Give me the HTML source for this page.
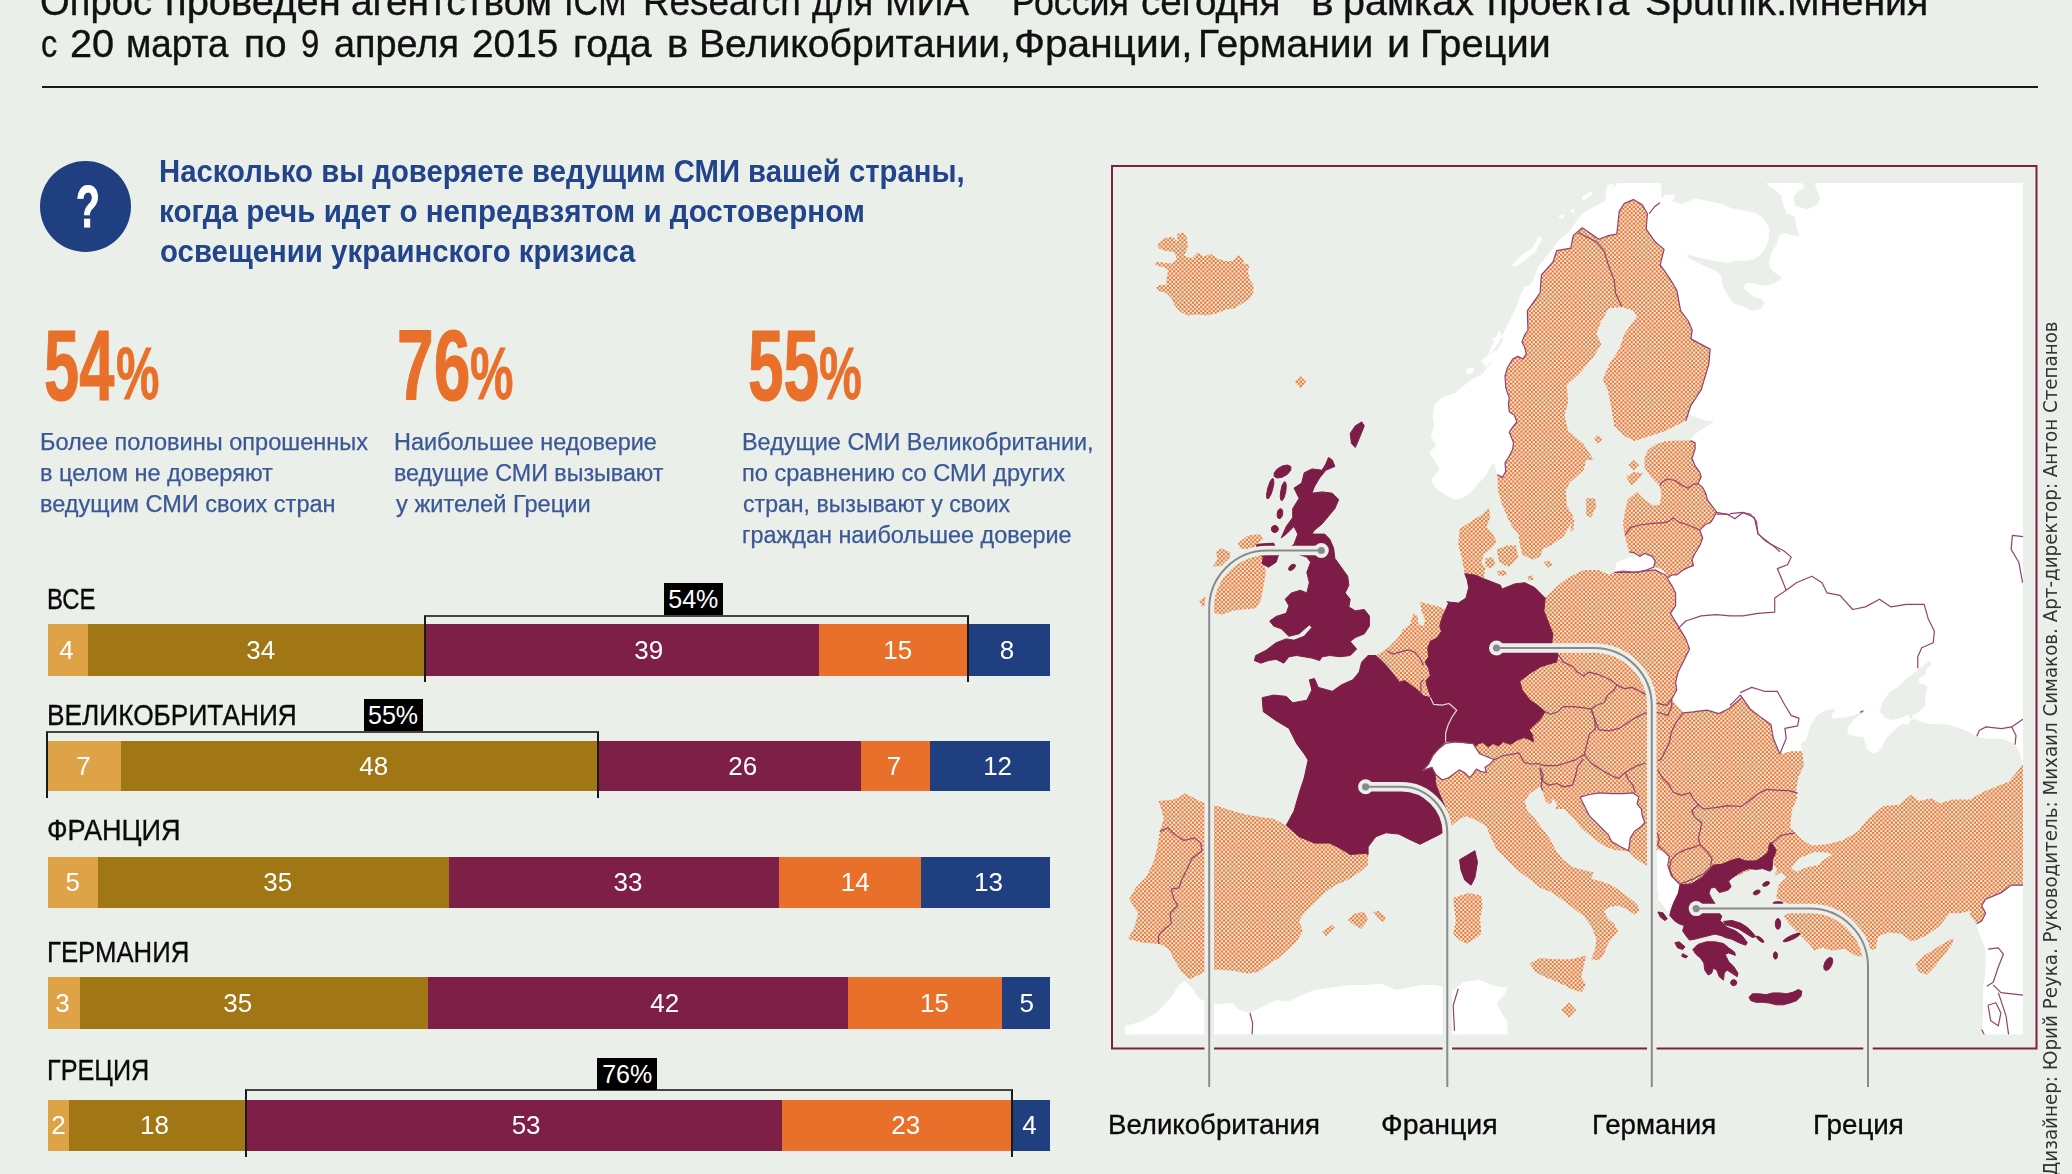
<!DOCTYPE html><html lang="ru"><head><meta charset="utf-8"><title>Доверие СМИ</title><style>
html,body{margin:0;padding:0}html{width:2072px;height:1174px;overflow:hidden}body{width:2072px;height:1174px;overflow:hidden;position:relative;contain:paint;background:#EBEFEA;font-family:"Liberation Sans", sans-serif}
.t{position:absolute;white-space:pre;line-height:1;transform-origin:0 0;filter:blur(0.45px)}
.b{position:absolute}
.n{position:absolute;color:#fff;font-size:26px;line-height:1;text-align:center;white-space:pre;filter:blur(0.4px)}
.bd{position:absolute;background:#000;color:#fff;font-size:25px;line-height:1;text-align:center}
svg{position:absolute;left:0;top:0}
#pg{position:absolute;left:0;top:0;width:2072px;height:1174px;overflow:hidden}
</style></head><body><div id="pg">
<div class="b" style="left:42px;top:86px;width:1995.5px;height:2px;background:#1a1a1a"></div>
<div class="b" style="left:40px;top:161px;width:91px;height:91px;border-radius:50%;background:#1F3F80"></div>
<div class="t" style="left:40.2px;top:-17.0px;font-size:38.5px;font-weight:400;color:#111;font-family:'Liberation Sans', sans-serif;transform:scaleX(0.9922);-webkit-text-stroke:0.35px currentColor;">Опрос</div>
<div class="t" style="left:165.0px;top:-17.0px;font-size:38.5px;font-weight:400;color:#111;font-family:'Liberation Sans', sans-serif;transform:scaleX(1.0373);-webkit-text-stroke:0.35px currentColor;">проведен</div>
<div class="t" style="left:351.4px;top:-17.0px;font-size:38.5px;font-weight:400;color:#111;font-family:'Liberation Sans', sans-serif;transform:scaleX(1.0089);-webkit-text-stroke:0.35px currentColor;">агентством</div>
<div class="t" style="left:564.3px;top:-17.0px;font-size:38.5px;font-weight:400;color:#111;font-family:'Liberation Sans', sans-serif;transform:scaleX(0.8866);-webkit-text-stroke:0.35px currentColor;">ICM</div>
<div class="t" style="left:643.3px;top:-17.0px;font-size:38.5px;font-weight:400;color:#111;font-family:'Liberation Sans', sans-serif;transform:scaleX(0.9574);-webkit-text-stroke:0.35px currentColor;">Research</div>
<div class="t" style="left:812.4px;top:-17.0px;font-size:38.5px;font-weight:400;color:#111;font-family:'Liberation Sans', sans-serif;transform:scaleX(0.9296);-webkit-text-stroke:0.35px currentColor;">для</div>
<div class="t" style="left:885.4px;top:-17.0px;font-size:38.5px;font-weight:400;color:#111;font-family:'Liberation Sans', sans-serif;transform:scaleX(0.9818);-webkit-text-stroke:0.35px currentColor;">МИА</div>
<div class="t" style="left:998.9px;top:-17.0px;font-size:38.5px;font-weight:400;color:#111;font-family:'Liberation Sans', sans-serif;transform:scaleX(0.9274);-webkit-text-stroke:0.35px currentColor;">&quot;Россия</div>
<div class="t" style="left:1140.6px;top:-17.0px;font-size:38.5px;font-weight:400;color:#111;font-family:'Liberation Sans', sans-serif;transform:scaleX(1.0025);-webkit-text-stroke:0.35px currentColor;">сегодня&quot;</div>
<div class="t" style="left:1311.1px;top:-17.0px;font-size:38.5px;font-weight:400;color:#111;font-family:'Liberation Sans', sans-serif;transform:scaleX(1.1043);-webkit-text-stroke:0.35px currentColor;">в</div>
<div class="t" style="left:1343.4px;top:-17.0px;font-size:38.5px;font-weight:400;color:#111;font-family:'Liberation Sans', sans-serif;transform:scaleX(1.0252);-webkit-text-stroke:0.35px currentColor;">рамках</div>
<div class="t" style="left:1487.1px;top:-17.0px;font-size:38.5px;font-weight:400;color:#111;font-family:'Liberation Sans', sans-serif;transform:scaleX(1.0100);-webkit-text-stroke:0.35px currentColor;">проекта</div>
<div class="t" style="left:1645.4px;top:-17.0px;font-size:38.5px;font-weight:400;color:#111;font-family:'Liberation Sans', sans-serif;transform:scaleX(1.0213);-webkit-text-stroke:0.35px currentColor;">Sputnik.Мнения</div>
<div class="t" style="left:40.6px;top:25.3px;font-size:38.5px;font-weight:400;color:#111;font-family:'Liberation Sans', sans-serif;transform:scaleX(0.8426);-webkit-text-stroke:0.35px currentColor;">с</div>
<div class="t" style="left:69.8px;top:25.3px;font-size:38.5px;font-weight:400;color:#111;font-family:'Liberation Sans', sans-serif;transform:scaleX(1.0309);-webkit-text-stroke:0.35px currentColor;">20</div>
<div class="t" style="left:126.2px;top:25.3px;font-size:38.5px;font-weight:400;color:#111;font-family:'Liberation Sans', sans-serif;transform:scaleX(0.9562);-webkit-text-stroke:0.35px currentColor;">марта</div>
<div class="t" style="left:243.8px;top:25.3px;font-size:38.5px;font-weight:400;color:#111;font-family:'Liberation Sans', sans-serif;transform:scaleX(1.0080);-webkit-text-stroke:0.35px currentColor;">по</div>
<div class="t" style="left:300.7px;top:25.3px;font-size:38.5px;font-weight:400;color:#111;font-family:'Liberation Sans', sans-serif;transform:scaleX(0.8533);-webkit-text-stroke:0.35px currentColor;">9</div>
<div class="t" style="left:333.8px;top:25.3px;font-size:38.5px;font-weight:400;color:#111;font-family:'Liberation Sans', sans-serif;transform:scaleX(0.9829);-webkit-text-stroke:0.35px currentColor;">апреля</div>
<div class="t" style="left:472.2px;top:25.3px;font-size:38.5px;font-weight:400;color:#111;font-family:'Liberation Sans', sans-serif;transform:scaleX(1.0087);-webkit-text-stroke:0.35px currentColor;">2015</div>
<div class="t" style="left:572.8px;top:25.3px;font-size:38.5px;font-weight:400;color:#111;font-family:'Liberation Sans', sans-serif;transform:scaleX(1.0122);-webkit-text-stroke:0.35px currentColor;">года</div>
<div class="t" style="left:666.5px;top:25.3px;font-size:38.5px;font-weight:400;color:#111;font-family:'Liberation Sans', sans-serif;transform:scaleX(1.0330);-webkit-text-stroke:0.35px currentColor;">в</div>
<div class="t" style="left:698.7px;top:25.3px;font-size:38.5px;font-weight:400;color:#111;font-family:'Liberation Sans', sans-serif;transform:scaleX(1.0161);-webkit-text-stroke:0.35px currentColor;">Великобритании,</div>
<div class="t" style="left:1014.4px;top:25.3px;font-size:38.5px;font-weight:400;color:#111;font-family:'Liberation Sans', sans-serif;transform:scaleX(1.0564);-webkit-text-stroke:0.35px currentColor;">Франции,</div>
<div class="t" style="left:1197.8px;top:25.3px;font-size:38.5px;font-weight:400;color:#111;font-family:'Liberation Sans', sans-serif;transform:scaleX(1.0114);-webkit-text-stroke:0.35px currentColor;">Германии</div>
<div class="t" style="left:1386.7px;top:25.3px;font-size:38.5px;font-weight:400;color:#111;font-family:'Liberation Sans', sans-serif;transform:scaleX(1.0746);-webkit-text-stroke:0.35px currentColor;">и</div>
<div class="t" style="left:1419.8px;top:25.3px;font-size:38.5px;font-weight:400;color:#111;font-family:'Liberation Sans', sans-serif;transform:scaleX(1.0337);-webkit-text-stroke:0.35px currentColor;">Греции</div>
<div class="t" style="left:158.7px;top:155.7px;font-size:30.5px;font-weight:700;color:#22448A;font-family:'Liberation Sans', sans-serif;transform:scaleX(0.9606);">Насколько вы доверяете ведущим СМИ вашей страны,</div>
<div class="t" style="left:158.6px;top:196.2px;font-size:30.5px;font-weight:700;color:#22448A;font-family:'Liberation Sans', sans-serif;transform:scaleX(0.9707);">когда речь идет о непредвзятом и достоверном</div>
<div class="t" style="left:159.6px;top:236.2px;font-size:30.5px;font-weight:700;color:#22448A;font-family:'Liberation Sans', sans-serif;transform:scaleX(0.9634);">освещении украинского кризиса</div>
<div class="t" style="left:39.7px;top:430.7px;font-size:23.5px;font-weight:400;color:#3A5896;font-family:'Liberation Sans', sans-serif;transform:scaleX(1.0028);-webkit-text-stroke:0.25px currentColor;">Более половины опрошенных</div>
<div class="t" style="left:40.0px;top:461.8px;font-size:23.5px;font-weight:400;color:#3A5896;font-family:'Liberation Sans', sans-serif;transform:scaleX(1.0025);-webkit-text-stroke:0.25px currentColor;">в целом не доверяют</div>
<div class="t" style="left:40.0px;top:492.8px;font-size:23.5px;font-weight:400;color:#3A5896;font-family:'Liberation Sans', sans-serif;transform:scaleX(1.0014);-webkit-text-stroke:0.25px currentColor;">ведущим СМИ своих стран</div>
<div class="t" style="left:394.1px;top:430.7px;font-size:23.5px;font-weight:400;color:#3A5896;font-family:'Liberation Sans', sans-serif;transform:scaleX(0.9975);-webkit-text-stroke:0.25px currentColor;">Наибольшее недоверие</div>
<div class="t" style="left:394.4px;top:461.8px;font-size:23.5px;font-weight:400;color:#3A5896;font-family:'Liberation Sans', sans-serif;transform:scaleX(0.9899);-webkit-text-stroke:0.25px currentColor;">ведущие СМИ вызывают</div>
<div class="t" style="left:396.0px;top:492.8px;font-size:23.5px;font-weight:400;color:#3A5896;font-family:'Liberation Sans', sans-serif;transform:scaleX(1.0053);-webkit-text-stroke:0.25px currentColor;">у жителей Греции</div>
<div class="t" style="left:742.1px;top:430.7px;font-size:23.5px;font-weight:400;color:#3A5896;font-family:'Liberation Sans', sans-serif;transform:scaleX(0.9965);-webkit-text-stroke:0.25px currentColor;">Ведущие СМИ Великобритании,</div>
<div class="t" style="left:742.4px;top:461.8px;font-size:23.5px;font-weight:400;color:#3A5896;font-family:'Liberation Sans', sans-serif;transform:scaleX(1.0032);-webkit-text-stroke:0.25px currentColor;">по сравнению со СМИ других</div>
<div class="t" style="left:743.1px;top:492.8px;font-size:23.5px;font-weight:400;color:#3A5896;font-family:'Liberation Sans', sans-serif;transform:scaleX(0.9835);-webkit-text-stroke:0.25px currentColor;">стран, вызывают у своих</div>
<div class="t" style="left:742.4px;top:523.9px;font-size:23.5px;font-weight:400;color:#3A5896;font-family:'Liberation Sans', sans-serif;transform:scaleX(0.9965);-webkit-text-stroke:0.25px currentColor;">граждан наибольшее доверие</div>
<div class="t" style="left:44.3px;top:315.5px;font-size:99.5px;font-weight:700;color:#E8702A;font-family:'Liberation Sans', sans-serif;transform:scaleX(0.6351);-webkit-text-stroke:1.2px #E8702A;">54</div>
<div class="t" style="left:115.7px;top:336.2px;font-size:75px;font-weight:700;color:#E8702A;font-family:'Liberation Sans', sans-serif;transform:scaleX(0.6516);-webkit-text-stroke:0.8px #E8702A;">%</div>
<div class="t" style="left:397.2px;top:315.5px;font-size:99.5px;font-weight:700;color:#E8702A;font-family:'Liberation Sans', sans-serif;transform:scaleX(0.6633);-webkit-text-stroke:1.2px #E8702A;">76</div>
<div class="t" style="left:469.7px;top:336.2px;font-size:75px;font-weight:700;color:#E8702A;font-family:'Liberation Sans', sans-serif;transform:scaleX(0.6516);-webkit-text-stroke:0.8px #E8702A;">%</div>
<div class="t" style="left:747.8px;top:315.5px;font-size:99.5px;font-weight:700;color:#E8702A;font-family:'Liberation Sans', sans-serif;transform:scaleX(0.6423);-webkit-text-stroke:1.2px #E8702A;">55</div>
<div class="t" style="left:818.8px;top:336.2px;font-size:75px;font-weight:700;color:#E8702A;font-family:'Liberation Sans', sans-serif;transform:scaleX(0.6423);-webkit-text-stroke:0.8px #E8702A;">%</div>
<div class="t" style="left:47.4px;top:583.9px;font-size:30px;font-weight:400;color:#0a0a0a;font-family:'Liberation Sans', sans-serif;transform:scaleX(0.7971);-webkit-text-stroke:0.35px currentColor;">ВСЕ</div>
<div class="t" style="left:46.8px;top:700.4px;font-size:30px;font-weight:400;color:#0a0a0a;font-family:'Liberation Sans', sans-serif;transform:scaleX(0.8758);-webkit-text-stroke:0.35px currentColor;">ВЕЛИКОБРИТАНИЯ</div>
<div class="t" style="left:46.5px;top:815.1px;font-size:30px;font-weight:400;color:#0a0a0a;font-family:'Liberation Sans', sans-serif;transform:scaleX(0.9038);-webkit-text-stroke:0.35px currentColor;">ФРАНЦИЯ</div>
<div class="t" style="left:46.9px;top:936.8px;font-size:30px;font-weight:400;color:#0a0a0a;font-family:'Liberation Sans', sans-serif;transform:scaleX(0.8576);-webkit-text-stroke:0.35px currentColor;">ГЕРМАНИЯ</div>
<div class="t" style="left:46.9px;top:1055.1px;font-size:30px;font-weight:400;color:#0a0a0a;font-family:'Liberation Sans', sans-serif;transform:scaleX(0.8401);-webkit-text-stroke:0.35px currentColor;">ГРЕЦИЯ</div>
<div class="t" style="left:1108.0px;top:1110.3px;font-size:28.5px;font-weight:400;color:#0a0a0a;font-family:'Liberation Sans', sans-serif;transform:scaleX(0.9683);-webkit-text-stroke:0.35px currentColor;">Великобритания</div>
<div class="t" style="left:1381.0px;top:1110.3px;font-size:28.5px;font-weight:400;color:#0a0a0a;font-family:'Liberation Sans', sans-serif;transform:scaleX(0.9990);-webkit-text-stroke:0.35px currentColor;">Франция</div>
<div class="t" style="left:1592.4px;top:1110.3px;font-size:28.5px;font-weight:400;color:#0a0a0a;font-family:'Liberation Sans', sans-serif;transform:scaleX(0.9717);-webkit-text-stroke:0.35px currentColor;">Германия</div>
<div class="t" style="left:1813.4px;top:1110.3px;font-size:28.5px;font-weight:400;color:#0a0a0a;font-family:'Liberation Sans', sans-serif;transform:scaleX(0.9748);-webkit-text-stroke:0.35px currentColor;">Греция</div>
<div class="t" style="left:76.1px;top:176.5px;font-size:60px;font-weight:700;color:#fff;font-family:'Liberation Sans', sans-serif;transform:scaleX(0.6494);-webkit-text-stroke:1px #fff;">?</div>
<div class="b" style="left:48.0px;top:624.0px;width:40.4px;height:51.6px;background:#DFA347"></div>
<div class="n" style="left:36.4px;top:636.6px;width:60px">4</div>
<div class="b" style="left:87.8px;top:624.0px;width:337.5px;height:51.6px;background:#A17614"></div>
<div class="n" style="left:230.7px;top:636.6px;width:60px">34</div>
<div class="b" style="left:424.7px;top:624.0px;width:395.1px;height:51.6px;background:#7D1F46"></div>
<div class="n" style="left:618.8px;top:636.6px;width:60px">39</div>
<div class="b" style="left:819.2px;top:624.0px;width:149.2px;height:51.6px;background:#E8702A"></div>
<div class="n" style="left:867.8px;top:636.6px;width:60px">15</div>
<div class="b" style="left:967.8px;top:624.0px;width:82.2px;height:51.6px;background:#1F3F80"></div>
<div class="n" style="left:977.1px;top:636.6px;width:60px">8</div>
<div class="b" style="left:48.0px;top:740.7px;width:73.6px;height:50.8px;background:#DFA347"></div>
<div class="n" style="left:53.4px;top:752.9px;width:60px">7</div>
<div class="b" style="left:121.0px;top:740.7px;width:477.9px;height:50.8px;background:#A17614"></div>
<div class="n" style="left:343.8px;top:752.9px;width:60px">48</div>
<div class="b" style="left:598.3px;top:740.7px;width:262.9px;height:50.8px;background:#7D1F46"></div>
<div class="n" style="left:712.7px;top:752.9px;width:60px">26</div>
<div class="b" style="left:860.6px;top:740.7px;width:69.6px;height:50.8px;background:#E8702A"></div>
<div class="n" style="left:864.0px;top:752.9px;width:60px">7</div>
<div class="b" style="left:929.6px;top:740.7px;width:120.4px;height:50.8px;background:#1F3F80"></div>
<div class="n" style="left:967.6px;top:752.9px;width:60px">12</div>
<div class="b" style="left:48.0px;top:856.8px;width:50.8px;height:50.9px;background:#DFA347"></div>
<div class="n" style="left:42.7px;top:869.0px;width:60px">5</div>
<div class="b" style="left:98.2px;top:856.8px;width:351.5px;height:50.9px;background:#A17614"></div>
<div class="n" style="left:247.7px;top:869.0px;width:60px">35</div>
<div class="b" style="left:449.1px;top:856.8px;width:330.9px;height:50.9px;background:#7D1F46"></div>
<div class="n" style="left:598.0px;top:869.0px;width:60px">33</div>
<div class="b" style="left:779.4px;top:856.8px;width:142.3px;height:50.9px;background:#E8702A"></div>
<div class="n" style="left:825.3px;top:869.0px;width:60px">14</div>
<div class="b" style="left:921.1px;top:856.8px;width:128.9px;height:50.9px;background:#1F3F80"></div>
<div class="n" style="left:958.5px;top:869.0px;width:60px">13</div>
<div class="b" style="left:48.0px;top:977.3px;width:32.2px;height:51.5px;background:#DFA347"></div>
<div class="n" style="left:32.6px;top:989.8px;width:60px">3</div>
<div class="b" style="left:79.6px;top:977.3px;width:349.4px;height:51.5px;background:#A17614"></div>
<div class="n" style="left:207.8px;top:989.8px;width:60px">35</div>
<div class="b" style="left:428.4px;top:977.3px;width:420.6px;height:51.5px;background:#7D1F46"></div>
<div class="n" style="left:634.7px;top:989.8px;width:60px">42</div>
<div class="b" style="left:848.4px;top:977.3px;width:154.5px;height:51.5px;background:#E8702A"></div>
<div class="n" style="left:904.4px;top:989.8px;width:60px">15</div>
<div class="b" style="left:1002.3px;top:977.3px;width:47.7px;height:51.5px;background:#1F3F80"></div>
<div class="n" style="left:996.8px;top:989.8px;width:60px">5</div>
<div class="b" style="left:48.0px;top:1100.0px;width:21.6px;height:51.0px;background:#DFA347"></div>
<div class="n" style="left:28.4px;top:1112.3px;width:60px">2</div>
<div class="b" style="left:69.0px;top:1100.0px;width:177.9px;height:51.0px;background:#A17614"></div>
<div class="n" style="left:124.5px;top:1112.3px;width:60px">18</div>
<div class="b" style="left:246.3px;top:1100.0px;width:535.8px;height:51.0px;background:#7D1F46"></div>
<div class="n" style="left:496.1px;top:1112.3px;width:60px">53</div>
<div class="b" style="left:781.5px;top:1100.0px;width:231.0px;height:51.0px;background:#E8702A"></div>
<div class="n" style="left:875.7px;top:1112.3px;width:60px">23</div>
<div class="b" style="left:1011.9px;top:1100.0px;width:38.1px;height:51.0px;background:#1F3F80"></div>
<div class="n" style="left:999.4px;top:1112.3px;width:60px">4</div>
<div class="b" style="left:423.7px;top:614.6px;width:545.1px;height:67.4px;border:2px solid #1a1a1a;border-top-color:#444;border-bottom:none;box-sizing:border-box"></div>
<div class="bd" style="left:663.6px;top:582.8px;width:59.4px;height:31.9px;line-height:32.9px">54%</div>
<div class="b" style="left:46.3px;top:731.0px;width:553.0px;height:67.0px;border:2px solid #1a1a1a;border-top-color:#444;border-bottom:none;box-sizing:border-box"></div>
<div class="bd" style="left:363.5px;top:699.0px;width:59.2px;height:31.5px;line-height:32.5px">55%</div>
<div class="b" style="left:245.3px;top:1089.0px;width:767.7px;height:68.0px;border:2px solid #1a1a1a;border-top-color:#444;border-bottom:none;box-sizing:border-box"></div>
<div class="bd" style="left:597.3px;top:1058.0px;width:59.9px;height:31.8px;line-height:32.8px">76%</div>
<div class="t" style="left:2042.2px;top:1176.0px;font-size:18.7px;color:#333;font-family:'DejaVu Sans', sans-serif;transform-origin:0 0;transform:rotate(-90deg) scaleX(0.9781)">Дизайнер: Юрий Реука. Руководитель: Михаил Симаков. Арт-директор: Антон Степанов</div>
<svg width="2072" height="1174" viewBox="0 0 2072 1174">
<defs><pattern id="hx" width="4.16" height="4.16" patternUnits="userSpaceOnUse"><rect width="4.16" height="4.16" fill="#F0EEE5"/><rect width="2.08" height="2.08" fill="#E8702A"/><rect x="2.08" y="2.08" width="2.08" height="2.08" fill="#E8702A"/></pattern>
<filter id="bl" x="0" y="0" width="100%%" height="100%%" filterUnits="objectBoundingBox"><feGaussianBlur stdDeviation="0.55"/></filter>
<clipPath id="mc"><rect x="1125" y="183" width="898" height="851.5"/></clipPath></defs>
<g clip-path="url(#mc)"><g filter="url(#bl)"><rect x="1100" y="160" width="950" height="900" fill="#EBEFEA"/>
<polygon points="1502.4,477.4 1497.3,474.8 1493.9,462.9 1490.5,466.3 1485.4,476.5 1478.6,483.3 1471.8,491.8 1463.3,497.8 1454.7,499.5 1446.2,495.2 1436.0,488.4 1430.9,479.9 1439.4,469.7 1434.3,459.5 1429.2,452.7 1436.0,445.8 1430.9,435.6 1434.3,425.4 1432.6,418.6 1434.3,405.0 1441.1,398.1 1454.7,393.0 1463.3,386.2 1471.8,379.4 1482.0,374.3 1490.5,364.1 1495.6,353.9 1499.0,347.0 1503.3,340.2 1501.6,335.1 1499.0,330.0 1486.2,358.9 1498.1,343.5 1506.7,326.5 1515.2,309.5 1522.0,292.4 1532.2,282.2 1539.0,265.2 1549.3,253.3 1559.5,239.6 1569.7,231.1 1576.5,220.9 1583.3,212.4 1593.5,207.3 1603.8,202.1 1610.6,190.2 1617.4,183.4 1619.1,180.9 1661.3,182.9 1661.3,198.6 1665.4,194.5 1675.0,195.2 1672.2,201.4 1681.8,204.1 1695.4,198.6 1706.3,200.7 1722.7,204.1 1730.9,208.2 1743.1,210.2 1756.8,213.6 1763.6,219.1 1769.0,227.3 1769.0,238.2 1765.6,247.7 1760.9,254.5 1754.0,259.3 1743.1,261.3 1736.3,260.6 1728.1,262.7 1715.9,261.3 1703.6,258.6 1695.4,256.6 1687.2,254.5 1687.2,257.2 1695.4,261.3 1706.3,266.8 1715.9,270.9 1721.3,276.3 1722.7,285.9 1728.1,295.4 1733.6,303.6 1743.1,306.3 1751.3,310.4 1760.9,309.0 1764.3,303.6 1762.2,299.5 1754.0,296.8 1747.2,291.3 1743.1,287.2 1747.2,283.1 1754.0,283.1 1762.2,285.9 1770.4,284.5 1779.9,280.4 1781.3,276.3 1775.8,273.6 1770.4,268.1 1769.0,262.7 1771.8,251.8 1777.2,243.6 1778.6,235.4 1784.0,232.7 1793.6,235.4 1799.7,236.1 1796.3,227.3 1794.9,216.3 1786.8,213.6 1782.7,204.1 1781.3,195.9 1775.8,190.4 1769.0,186.4 1766.3,182.9 1801.7,182.9 1804.5,187.7 1797.7,191.8 1793.6,197.3 1794.9,205.4 1807.2,209.5 1818.1,204.1 1820.1,197.3 1816.7,189.1 1814.7,183.6 1815.4,182.9 2023.0,183.0 2023.0,764.4 2021.9,764.4 2021.1,757.6 2018.5,749.0 2011.7,742.2 2001.5,738.8 1987.9,738.8 1975.9,736.3 1969.1,732.0 1960.6,728.6 1950.4,725.2 1940.2,723.5 1929.9,724.3 1921.4,721.8 1914.6,719.2 1911.2,720.1 1912.9,715.0 1919.7,711.6 1924.8,706.5 1925.7,696.2 1927.4,686.0 1918.0,682.6 1919.7,677.5 1925.7,674.1 1926.5,669.0 1931.6,663.9 1929.9,661.3 1923.1,665.6 1914.6,672.4 1906.1,679.2 1899.3,686.0 1889.0,692.8 1882.2,703.0 1879.7,711.6 1872.0,709.9 1865.2,711.6 1860.1,712.4 1855.0,715.0 1844.7,717.5 1832.8,718.4 1831.1,715.0 1836.2,709.0 1826.0,709.9 1817.5,715.0 1810.7,725.2 1805.6,740.5 1800.4,743.9 1802.2,750.8 1760.0,760.0 1700.0,730.0 1668.0,716.0 1660.0,700.0 1660.0,600.0 1650.0,575.0 1680.0,540.0 1690.0,500.0 1680.0,450.0 1690.5,440.6 1693.5,435.3 1699.7,430.7 1707.3,426.1 1714.2,421.5 1704.3,419.9 1690.5,415.3 1687.4,413.8 1676.7,409.2 1690.0,360.0 1660.0,300.0 1630.0,262.0 1625.0,288.0 1610.0,283.0 1580.0,300.0 1540.0,380.0 1520.0,440.0 1510.0,470.0" fill="#fff"/>
<polygon points="1511.8,265.2 1522.0,255.0 1532.2,248.1 1539.0,236.2 1542.4,237.9 1535.6,251.6 1525.4,260.1 1515.2,266.9" fill="#fff"/>
<polygon points="1581.6,197.0 1591.8,191.1 1592.7,194.5 1583.3,200.4" fill="#fff"/>
<polygon points="1557.8,216.6 1564.6,214.1 1562.9,219.2" fill="#fff"/>
<polygon points="1569.7,209.8 1574.8,209.0 1573.1,213.2" fill="#fff"/>
<polygon points="1491.3,337.6 1496.4,338.4 1494.7,341.8" fill="#fff"/>
<polygon points="1465.8,369.1 1474.3,367.4 1472.6,373.4 1466.6,374.2" fill="#fff"/>
<polygon points="1481.1,360.6 1494.7,350.4 1498.1,352.1 1486.2,367.4" fill="#fff"/>
<polygon points="1607.2,185.1 1614.0,183.4 1608.9,198.7 1605.5,197.0" fill="#fff"/>
<polygon points="1518.6,299.3 1525.4,285.6 1528.8,287.3 1522.0,302.7" fill="#fff"/>
<polygon points="1860.1,715.0 1865.2,711.6 1872.0,709.9 1879.7,711.6 1885.6,718.4 1892.5,720.1 1899.3,718.4 1907.8,715.0 1911.2,720.1 1907.8,725.2 1902.7,723.5 1897.6,726.9 1892.5,732.0 1885.6,738.8 1883.1,745.6 1878.8,751.6 1872.9,753.3 1866.9,749.0 1863.5,737.1 1855.0,736.3 1847.3,733.7 1848.2,726.9 1853.3,720.1" fill="#fff"/>
<polygon points="1614.2,572.4 1616.8,562.2 1627.0,558.4 1639.8,554.6 1652.6,557.1 1655.1,569.9 1632.1,572.4" fill="#fff"/>
<polygon points="1125.3,1034.7 1125.3,1025.8 1140.7,1021.9 1156.0,1013.0 1168.8,1000.2 1179.0,984.9 1185.4,981.1 1191.8,987.4 1198.2,997.7 1207.1,1002.8 1222.4,1004.1 1232.7,1002.8 1237.8,1009.2 1250.6,1013.0 1263.3,1006.6 1276.1,1000.2 1288.9,1001.5 1301.7,995.1 1314.4,990.0 1332.3,987.4 1350.2,984.9 1365.6,984.9 1380.9,983.6 1396.2,990.0 1409.0,987.4 1420.0,984.9 1435.3,984.9 1445.6,987.4 1453.2,990.0 1463.4,982.3 1478.8,979.8 1491.6,984.9 1501.8,987.4 1508.2,986.2 1504.3,995.1 1496.7,1002.8 1501.8,1013.0 1506.9,1020.7 1508.2,1034.7" fill="#fff"/>
<polygon points="2023.1,885.2 2011.1,885.2 2000.9,892.9 1985.6,899.3 1981.7,905.7 1985.6,913.3 1981.7,921.0 1976.6,923.6 1979.2,933.8 1985.6,949.1 1985.6,969.6 1983.0,990.0 1983.0,1015.6 1981.7,1034.7 2023.1,1034.7" fill="#fff"/>
<polygon points="1157.3,244.3 1164.9,237.9 1172.6,236.7 1177.7,241.8 1177.0,234.1 1182.8,232.3 1186.7,236.7 1187.9,246.9 1184.1,255.8 1191.8,258.4 1198.2,252.0 1203.3,256.6 1210.9,254.0 1217.3,258.4 1225.0,260.9 1232.7,260.9 1237.8,255.1 1242.9,258.4 1244.2,263.5 1249.3,264.8 1248.0,272.4 1250.0,280.1 1253.6,285.2 1253.1,292.9 1249.3,299.3 1242.9,303.1 1235.2,308.2 1226.3,309.5 1217.3,313.3 1207.1,315.4 1196.9,314.6 1186.7,315.4 1179.0,310.8 1173.9,304.4 1171.3,298.0 1166.2,292.9 1159.8,291.6 1156.0,287.8 1159.8,284.7 1166.2,285.2 1166.7,277.6 1168.3,269.9 1163.7,267.3 1157.3,266.1 1154.0,263.5 1157.3,261.7 1164.9,262.7 1172.6,263.5 1177.0,258.4 1173.9,252.0 1164.9,250.7 1158.6,248.2" fill="url(#hx)"/>
<polygon points="1300.4,375.9 1306.3,381.8 1300.4,388.7 1294.5,381.8" fill="url(#hx)"/>
<polygon points="1237.8,543.1 1248.0,535.4 1259.5,534.1 1263.3,539.2 1256.9,544.3 1255.7,552.0 1263.3,557.1 1265.9,572.4 1263.3,587.8 1260.8,600.6 1255.7,608.2 1242.9,609.5 1232.7,610.8 1222.4,614.6 1214.8,613.3 1212.2,605.7 1202.0,606.9 1199.4,600.6 1204.6,596.7 1212.2,592.9 1214.8,582.7 1219.9,572.4 1227.6,567.3 1217.3,566.1 1212.2,567.3 1217.3,559.7 1216.1,552.0 1221.2,548.2 1230.1,552.0 1230.1,558.4 1242.9,554.6 1248.0,549.4 1240.3,548.2" fill="url(#hx)"/>
<polygon points="1158.6,800.9 1173.9,799.6 1185.4,793.2 1194.3,798.3 1204.6,803.4 1217.3,806.0 1232.7,811.1 1248.0,814.9 1263.3,817.5 1273.6,818.8 1286.3,825.2 1299.1,836.7 1314.4,843.1 1329.8,843.1 1340.0,848.2 1350.2,854.6 1365.6,853.3 1368.1,854.6 1368.1,864.8 1359.2,872.4 1347.7,880.1 1334.9,885.2 1324.7,892.9 1314.4,903.1 1304.2,913.3 1299.1,921.0 1302.9,931.2 1296.6,941.4 1288.9,949.1 1278.7,958.1 1268.4,964.4 1258.2,972.1 1248.0,973.4 1232.7,970.8 1217.3,969.6 1204.6,972.1 1194.3,977.2 1189.2,979.3 1181.6,972.1 1173.9,959.3 1168.8,949.1 1159.8,944.0 1143.2,942.7 1127.9,938.9 1134.3,927.4 1138.1,913.3 1129.2,899.3 1135.6,887.8 1145.8,877.6 1153.4,862.2 1157.3,846.9 1159.8,831.6 1163.7,818.8 1161.1,808.6" fill="url(#hx)"/>
<polygon points="1322.1,931.2 1332.3,924.8 1334.9,927.4 1325.9,936.3" fill="url(#hx)"/>
<polygon points="1347.7,919.7 1355.3,913.3 1364.3,912.1 1368.1,919.7 1361.7,928.7 1355.3,926.1" fill="url(#hx)"/>
<polygon points="1373.2,912.1 1378.3,910.8 1386.0,917.2 1383.4,922.3 1378.3,918.4" fill="url(#hx)"/>
<polygon points="1376.6,655.0 1387.7,648.1 1397.9,637.9 1403.0,629.4 1409.8,624.3 1413.3,614.1 1417.5,615.8 1418.4,624.3 1423.5,626.0 1425.2,619.2 1421.8,612.4 1420.1,602.1 1428.6,603.9 1438.8,606.4 1445.6,609.8 1442.2,617.5 1439.7,626.0 1441.4,631.1 1437.1,637.9 1430.3,641.3 1427.7,648.1 1428.6,656.7 1425.2,661.8 1428.6,668.6 1430.3,675.4 1426.0,680.5 1426.9,685.6 1430.3,695.8 1423.5,695.8 1418.4,690.7 1411.6,685.6 1404.7,680.5 1399.6,682.2 1392.8,673.7 1386.0,665.2 1380.9,660.1" fill="url(#hx)"/>
<polygon points="1459.6,529.0 1471.1,521.3 1481.3,514.9 1489.0,507.3 1490.3,518.8 1486.4,526.4 1492.8,534.1 1496.7,541.8 1491.6,548.2 1483.9,554.6 1481.3,562.2 1485.2,567.3 1483.9,578.8 1474.9,575.0 1464.7,573.7 1462.2,559.7 1458.3,544.3" fill="url(#hx)"/>
<polygon points="1485.2,558.4 1492.8,557.1 1495.4,564.8 1490.3,568.6 1485.2,566.1" fill="url(#hx)"/>
<polygon points="1496.7,549.4 1506.9,545.6 1515.8,545.6 1518.4,557.1 1509.4,567.3 1499.2,562.2" fill="url(#hx)"/>
<polygon points="1496.7,571.2 1505.6,569.9 1506.9,575.0 1499.2,576.3" fill="url(#hx)"/>
<polygon points="1543.9,562.2 1549.1,560.2 1552.4,564.8 1547.8,567.8" fill="url(#hx)"/>
<polygon points="1527.3,576.3 1532.4,575.5 1533.7,580.1 1528.6,580.6" fill="url(#hx)"/>
<polygon points="1497.3,474.8 1502.4,477.4 1505.8,471.4 1505.0,462.9 1509.3,456.1 1512.7,449.3 1513.5,442.4 1509.3,432.2 1512.7,427.1 1516.9,422.0 1514.4,415.2 1509.3,411.8 1508.4,403.3 1509.3,398.1 1505.8,387.9 1505.0,376.0 1507.5,367.5 1512.7,359.0 1517.8,356.4 1522.9,359.0 1526.3,353.9 1524.6,347.0 1522.0,341.9 1524.6,335.1 1528.0,330.0 1527.3,310.8 1540.1,292.9 1541.4,275.0 1552.9,262.2 1556.7,250.7 1570.8,248.2 1573.3,235.4 1582.3,227.7 1596.3,241.8 1604.0,250.7 1609.1,267.3 1614.2,280.1 1615.5,292.9 1621.9,306.9 1609.1,308.2 1601.4,321.0 1596.3,333.8 1601.4,344.0 1593.8,356.8 1578.4,374.7 1566.9,384.9 1568.2,402.8 1564.4,415.6 1568.2,430.9 1583.6,443.7 1593.8,460.0 1586.1,460.0 1583.6,470.2 1569.5,483.0 1565.7,490.7 1566.9,506.0 1573.3,516.2 1568.2,529.0 1563.1,536.7 1552.9,544.3 1542.7,549.4 1540.1,557.1 1532.4,559.7 1522.2,554.6 1519.7,544.3 1518.4,534.1 1512.0,526.4 1506.9,516.2 1501.8,503.4 1497.9,490.7" fill="url(#hx)"/>
<polygon points="1586.1,498.3 1595.1,498.3 1596.3,506.0 1591.2,517.5 1586.1,514.9" fill="url(#hx)"/>
<polygon points="1571.3,520.1 1574.4,519.3 1573.3,530.3 1570.3,531.6" fill="url(#hx)"/>
<polygon points="1598.1,434.7 1602.5,439.1 1598.1,443.7 1593.8,439.1" fill="url(#hx)"/>
<polygon points="1582.3,227.7 1598.9,239.2 1609.1,235.4 1616.8,234.1 1619.3,211.1 1624.4,203.4 1633.4,199.6 1642.3,204.7 1647.4,213.7 1646.2,229.0 1655.1,241.8 1664.1,249.4 1660.2,264.8 1669.2,277.6 1676.8,290.3 1680.7,310.8 1688.3,321.0 1692.2,329.9 1690.9,338.9 1710.1,349.1 1708.8,364.4 1701.1,390.0 1690.9,405.3 1685.8,420.7 1665.3,430.9 1650.0,436.0 1634.7,441.1 1624.4,436.0 1614.2,425.8 1611.7,410.4 1607.8,390.0 1602.7,379.8 1609.1,364.4 1619.3,349.1 1624.4,333.8 1637.2,315.9 1633.4,310.8 1621.9,306.9 1615.5,292.9 1614.2,280.1 1609.1,267.3 1604.0,250.7 1596.3,241.8" fill="url(#hx)"/>
<polygon points="1690.5,440.6 1695.1,442.9 1695.1,449.1 1692.0,458.3 1695.1,465.9 1699.7,472.1 1701.2,476.7 1698.1,483.6 1702.7,487.4 1705.8,493.5 1707.3,499.7 1711.9,505.8 1716.5,511.9 1713.5,518.1 1710.4,522.7 1705.8,524.2 1699.7,530.3 1702.7,538.0 1699.7,545.7 1695.1,553.3 1692.0,559.5 1693.5,565.6 1688.9,567.1 1682.8,570.2 1676.7,574.8 1672.1,574.8 1667.5,577.9 1664.4,571.7 1658.3,567.9 1653.7,567.1 1655.2,561.0 1652.1,556.4 1644.5,553.3 1639.9,556.4 1633.7,552.6 1629.1,551.8 1626.8,544.1 1624.5,534.9 1623.0,522.7 1625.3,510.4 1627.6,499.7 1636.8,492.0 1644.5,499.7 1653.7,505.8 1659.8,504.3 1661.3,495.1 1659.8,485.9 1650.6,476.7 1644.5,467.5 1644.5,458.3 1647.5,450.6 1655.2,444.5 1664.4,441.4 1676.7,440.6" fill="url(#hx)"/>
<polygon points="1628.4,465.2 1633.7,460.1 1639.1,465.2 1633.7,470.2" fill="url(#hx)"/>
<polygon points="1626.1,476.7 1633.7,472.1 1642.9,473.6 1636.8,481.3 1631.4,485.9" fill="url(#hx)"/>
<polygon points="1545.2,598.0 1555.4,587.8 1568.2,577.6 1583.6,569.9 1598.9,569.9 1609.1,575.0 1614.2,572.4 1632.1,572.4 1655.1,569.9 1665.3,575.0 1671.7,585.2 1675.6,592.9 1675.6,605.7 1670.4,613.3 1678.1,626.1 1685.8,638.9 1689.6,649.1 1683.2,661.9 1678.1,672.1 1675.6,682.3 1676.8,690.0 1671.7,698.9 1676.3,705.1 1683.1,711.9 1693.3,711.9 1707.0,710.2 1718.9,713.6 1729.1,708.5 1735.9,702.6 1741.0,698.3 1740.2,693.8 1750.4,709.2 1761.9,718.1 1770.9,724.5 1773.4,738.6 1779.8,753.9 1791.3,751.3 1802.8,751.3 1802.2,750.8 1803.9,766.1 1798.7,776.3 1796.2,789.9 1797.0,798.5 1791.9,810.4 1790.2,827.4 1795.2,831.6 1759.3,866.0 1691.1,896.7 1671.5,908.6 1667.3,912.0 1662.1,905.2 1657.9,900.1 1657.0,888.1 1657.0,871.1 1657.0,849.8 1646.5,866.1 1635.4,858.4 1628.6,851.6 1615.0,849.9 1604.7,846.5 1597.9,841.4 1591.1,836.3 1582.6,829.5 1574.1,819.3 1563.9,809.0 1555.3,809.0 1557.0,803.9 1550.2,795.4 1540.0,788.6 1554.2,795.8 1550.3,804.7 1545.2,800.9 1542.7,790.7 1540.1,786.8 1529.9,793.2 1524.8,800.9 1527.3,811.1 1535.0,818.8 1542.7,829.0 1550.3,839.2 1555.4,849.4 1563.1,859.7 1573.3,867.3 1583.6,869.9 1593.8,872.4 1591.2,878.8 1601.4,881.4 1611.7,885.2 1619.3,890.3 1629.6,898.0 1637.2,904.4 1639.8,910.8 1634.7,914.6 1627.0,909.5 1619.3,905.7 1609.1,906.9 1604.0,910.8 1607.8,918.4 1614.2,923.6 1618.1,931.2 1611.7,938.9 1607.8,944.0 1604.0,954.2 1598.9,960.6 1591.2,959.3 1595.1,949.1 1596.3,938.9 1591.2,926.1 1583.6,915.9 1573.3,908.2 1563.1,900.6 1552.9,892.9 1540.1,887.8 1527.3,877.6 1517.1,869.9 1506.9,859.7 1496.7,849.4 1491.6,839.2 1486.4,826.4 1476.2,820.1 1466.0,816.2 1458.3,820.1 1450.7,826.4 1435.3,811.1 1430.2,783.0 1442.2,767.4 1450.7,758.9 1493.3,733.3 1496.7,690.0 1535.0,638.9" fill="url(#hx)"/>
<polygon points="1453.2,898.0 1468.6,892.9 1481.3,895.4 1482.6,905.7 1480.1,918.4 1481.3,933.8 1474.9,938.9 1466.0,944.0 1458.3,938.9 1453.2,933.8 1455.8,921.0 1454.5,910.8" fill="url(#hx)"/>
<polygon points="1529.9,963.2 1540.1,958.1 1555.4,959.3 1570.8,959.3 1586.1,955.5 1583.6,967.0 1581.0,977.2 1586.1,984.9 1581.0,992.6 1570.8,988.7 1558.0,982.3 1545.2,977.2 1535.0,972.1" fill="url(#hx)"/>
<polygon points="1568.7,1002.3 1576.4,1009.9 1568.7,1018.1 1561.1,1009.9" fill="url(#hx)"/>
<polygon points="1770.9,844.3 1781.1,835.4 1795.2,832.8 1801.6,839.2 1811.8,845.6 1827.1,844.3 1842.4,840.5 1857.8,831.6 1868.0,818.8 1883.3,806.0 1898.7,804.7 1911.4,794.5 1919.1,800.9 1931.9,798.3 1939.6,803.4 1952.3,799.6 1970.2,799.6 1983.0,791.9 1995.8,786.8 2008.6,781.7 2016.2,772.8 2023.1,763.8 2023.1,885.2 2011.1,885.2 2000.9,892.9 1985.6,899.3 1981.7,905.7 1985.6,913.3 1981.7,921.0 1976.6,923.6 1970.2,915.9 1970.2,910.8 1960.0,913.3 1949.8,913.3 1939.6,926.1 1929.3,933.8 1919.1,938.9 1911.4,941.4 1901.2,933.8 1888.4,932.5 1878.2,936.3 1875.7,949.1 1868.0,950.4 1862.9,956.8 1855.2,955.5 1845.0,949.1 1832.2,950.4 1822.0,947.8 1814.3,950.4 1809.2,944.0 1799.0,933.8 1788.8,923.6 1783.7,915.9 1791.3,912.1 1786.2,903.1 1776.0,898.0 1778.6,885.2 1786.2,877.6 1781.1,872.4 1773.4,876.3 1777.3,869.9 1773.4,864.8 1774.7,854.6" fill="url(#hx)"/>
<polygon points="1915.3,964.4 1924.2,955.5 1934.4,949.1 1944.7,942.7 1953.6,937.6 1952.3,944.0 1944.7,954.2 1934.4,967.0 1926.8,974.7 1919.1,972.1" fill="url(#hx)"/>
<polygon points="1422.6,770.8 1428.6,764.0 1432.8,755.5 1438.8,748.7 1445.6,743.5 1455.8,741.8 1464.4,742.7 1472.9,743.5 1476.3,748.7 1479.7,753.8 1488.2,757.2 1494.2,759.7 1489.9,764.0 1484.8,767.4 1486.5,772.5 1481.4,771.7 1476.3,769.1 1472.9,774.2 1469.5,777.6 1464.4,772.5 1459.3,769.9 1455.8,772.5 1449.0,777.6 1442.2,780.0 1435.4,774.2 1432.0,767.4 1426.9,769.1" fill="#fff"/>
<polygon points="1657.0,849.8 1662.1,850.7 1668.1,856.6 1668.1,866.0 1671.5,874.5 1676.6,881.3 1680.0,884.7 1678.3,893.3 1674.1,901.8 1671.5,908.6 1667.3,912.0 1662.1,905.2 1657.9,900.1 1657.0,888.1 1657.0,871.1" fill="#fff"/>
<polygon points="1580.0,797.1 1589.4,794.5 1599.6,792.8 1611.6,793.7 1623.5,793.7 1632.8,792.8 1638.8,797.1 1637.1,803.9 1641.4,809.0 1642.2,815.8 1644.8,822.7 1640.5,826.9 1634.5,831.2 1630.3,838.0 1629.4,844.8 1628.6,850.8 1620.1,846.5 1611.6,841.4 1608.1,834.6 1603.0,829.5 1596.2,822.7 1589.4,815.8 1585.1,807.3" fill="#fff"/>
<polygon points="1791.3,868.6 1799.0,858.4 1814.3,852.0 1827.1,852.5 1832.2,854.6 1822.0,860.9 1819.4,864.8 1806.7,867.3 1796.4,871.7" fill="#EBEFEA"/>
<polygon points="1328.5,457.4 1332.3,460.0 1334.9,466.4 1325.9,470.2 1319.6,477.9 1314.4,486.8 1311.9,493.2 1322.1,491.9 1332.3,493.2 1338.7,499.6 1334.9,508.6 1328.5,516.2 1322.1,523.9 1314.4,530.3 1311.9,534.1 1324.7,534.1 1329.8,539.2 1333.6,548.2 1334.9,558.4 1341.3,567.3 1347.7,576.3 1348.9,585.2 1345.1,592.9 1350.2,599.3 1348.9,606.9 1355.3,610.8 1364.3,609.5 1369.4,615.9 1369.4,626.1 1364.3,633.8 1355.3,637.6 1350.2,641.4 1356.6,649.1 1350.2,655.5 1340.0,656.8 1329.8,655.5 1322.1,656.8 1319.6,660.6 1311.9,658.1 1304.2,656.8 1296.6,655.5 1288.9,656.8 1283.8,663.2 1276.1,659.3 1268.4,660.6 1260.8,663.2 1254.4,660.6 1255.7,655.5 1265.9,650.4 1276.1,642.7 1286.3,638.9 1294.0,640.2 1304.2,636.3 1311.9,627.4 1309.3,624.8 1299.1,633.8 1288.9,636.3 1281.2,628.7 1273.6,626.1 1269.7,621.0 1276.1,616.4 1286.3,613.3 1288.9,605.7 1285.1,599.3 1291.4,592.9 1300.4,590.3 1306.8,592.9 1309.3,582.7 1306.8,572.4 1310.6,562.2 1306.8,557.1 1299.1,554.6 1288.9,548.2 1294.0,544.3 1297.8,534.1 1294.0,526.4 1286.3,534.1 1281.2,537.9 1286.3,526.4 1292.7,517.5 1292.7,508.6 1299.1,498.3 1294.0,488.1 1301.7,483.0 1304.2,472.8 1311.9,468.9 1322.1,470.2 1325.9,463.8" fill="#7D1F46" stroke="#7D1F46" stroke-width="1" stroke-linejoin="round"/>
<polygon points="1256.9,544.3 1273.6,543.1 1278.7,554.6 1276.1,562.2 1268.4,567.3 1262.1,563.5 1263.3,557.1 1255.7,552.0" fill="#7D1F46" stroke="#7D1F46" stroke-width="1" stroke-linejoin="round"/>
<polygon points="1361.7,421.9 1364.3,425.8 1359.2,438.6 1355.3,447.5 1351.5,443.7 1350.2,433.4 1355.3,425.8" fill="#7D1F46" stroke="#7D1F46" stroke-width="1" stroke-linejoin="round"/>
<polygon points="1262.1,697.7 1273.6,695.1 1286.3,696.4 1292.7,702.8 1306.8,700.2 1311.9,690.0 1309.3,679.8 1314.4,678.5 1318.3,687.4 1332.3,691.3 1341.3,684.9 1352.8,679.8 1359.2,672.1 1361.7,661.9 1368.1,655.5 1375.8,655.5 1380.9,660.1 1386.0,665.2 1392.8,673.7 1399.6,682.2 1404.7,680.5 1411.6,685.6 1418.4,690.7 1423.5,695.8 1430.3,697.5 1433.7,704.4 1442.2,705.2 1449.0,703.5 1456.7,710.3 1452.4,716.3 1448.2,724.8 1445.6,733.3 1445.6,741.8 1438.8,748.7 1432.8,755.5 1428.6,764.0 1422.6,770.8 1426.9,769.1 1432.0,767.4 1435.4,774.2 1435.3,783.0 1439.2,793.2 1445.6,808.6 1450.7,826.4 1440.4,834.1 1430.2,839.2 1420.0,844.3 1409.0,839.2 1398.8,834.1 1386.0,832.8 1375.8,836.7 1368.1,846.9 1368.1,854.6 1365.6,853.3 1350.2,854.6 1340.0,848.2 1329.8,843.1 1314.4,843.1 1299.1,836.7 1286.3,825.2 1294.0,811.1 1299.1,793.2 1304.2,777.9 1308.1,760.0 1304.2,753.9 1296.6,743.7 1288.9,728.3 1276.1,720.7 1263.3,711.7" fill="#7D1F46" stroke="#7D1F46" stroke-width="1" stroke-linejoin="round"/>
<polygon points="1459.6,859.7 1474.9,850.7 1477.5,862.2 1474.9,877.6 1471.1,885.2 1464.7,880.1 1460.9,869.9" fill="#7D1F46" stroke="#7D1F46" stroke-width="1" stroke-linejoin="round"/>
<polygon points="1445.6,609.8 1442.2,617.5 1439.7,626.0 1441.4,631.1 1437.1,637.9 1430.3,641.3 1427.7,648.1 1428.6,656.7 1425.2,661.8 1428.6,668.6 1430.3,675.4 1426.0,680.5 1426.9,685.6 1430.3,695.8 1430.3,697.5 1433.7,704.4 1442.2,705.2 1449.0,703.5 1456.7,710.3 1452.4,716.3 1448.2,724.8 1445.6,733.3 1445.6,741.8 1455.8,741.8 1464.4,742.7 1472.9,743.5 1476.3,746.1 1478.0,743.5 1483.1,742.7 1488.2,747.0 1493.3,743.5 1498.4,746.1 1503.5,741.8 1510.4,744.4 1517.2,740.1 1524.0,737.6 1529.1,739.3 1533.4,741.8 1532.5,735.0 1529.1,729.9 1532.5,726.5 1540.0,719.7 1545.2,711.7 1537.6,705.3 1529.9,700.2 1522.2,690.0 1519.7,681.1 1529.9,673.4 1540.1,667.0 1547.8,664.4 1556.7,661.9 1558.0,654.2 1551.6,644.0 1552.9,633.8 1547.8,621.0 1543.9,610.8 1545.2,598.0 1535.0,587.8 1524.8,582.7 1514.6,583.9 1501.8,589.1 1500.5,585.2 1494.1,582.7 1483.9,578.8 1474.9,575.0 1464.7,573.7 1467.3,580.1 1468.6,587.8 1466.0,598.0 1458.3,603.1 1446.8,601.8 1449.0,602.1" fill="#7D1F46" stroke="#7D1F46" stroke-width="1" stroke-linejoin="round"/>
<polygon points="1680.0,884.7 1691.1,883.9 1701.3,877.9 1709.8,869.4 1713.3,865.1 1721.8,864.3 1732.0,860.0 1738.8,858.3 1745.6,860.9 1755.8,860.9 1762.7,856.6 1767.8,852.4 1769.5,843.9 1771.2,842.1 1776.3,850.7 1772.9,859.2 1772.0,869.4 1770.3,871.1 1769.5,871.1 1762.7,868.6 1755.8,869.4 1749.0,868.6 1742.2,871.1 1737.1,874.5 1732.0,877.9 1728.6,881.3 1731.1,886.4 1728.6,889.8 1723.5,891.6 1719.2,892.4 1715.0,887.3 1710.7,888.1 1709.0,893.3 1711.6,898.4 1715.0,903.5 1718.4,912.0 1721.8,916.3 1720.1,920.5 1726.9,927.3 1735.4,930.7 1742.2,935.8 1747.3,942.7 1745.6,945.2 1738.8,942.7 1732.0,939.3 1725.2,937.5 1721.8,935.8 1715.0,934.1 1708.1,935.8 1701.3,937.5 1694.5,939.3 1689.4,940.1 1686.0,935.8 1682.6,930.7 1684.3,925.6 1679.2,923.9 1674.1,920.5 1669.8,915.4 1671.5,908.6 1674.1,901.8 1678.3,893.3" fill="#7D1F46" stroke="#7D1F46" stroke-width="1" stroke-linejoin="round"/>
<polygon points="1723.5,921.4 1732.0,920.5 1740.5,923.1 1747.3,927.3 1752.4,932.4 1755.8,936.7 1752.4,937.5 1745.6,933.3 1738.8,929.0 1732.0,926.5 1725.2,924.8" fill="#7D1F46" stroke="#7D1F46" stroke-width="1" stroke-linejoin="round"/>
<polygon points="1692.8,949.5 1697.9,944.4 1706.4,941.8 1715.0,941.8 1723.5,943.5 1728.6,947.8 1734.5,952.0 1735.4,955.4 1728.6,952.9 1725.2,954.6 1728.6,961.4 1733.7,966.5 1738.0,973.3 1737.1,976.7 1732.0,973.3 1726.9,969.9 1724.3,973.3 1723.5,980.1 1719.2,976.7 1716.7,969.9 1713.3,968.2 1711.6,973.3 1708.1,975.0 1704.7,969.9 1703.9,963.1 1700.5,958.0 1696.2,954.6" fill="#7D1F46" stroke="#7D1F46" stroke-width="1" stroke-linejoin="round"/>
<polygon points="1749.0,997.2 1752.4,993.8 1759.3,993.8 1766.1,994.6 1772.9,992.9 1779.7,992.9 1786.5,993.8 1793.3,992.1 1798.4,989.5 1801.8,991.2 1801.0,996.3 1796.7,1000.6 1789.9,1003.1 1783.1,1004.8 1776.3,1004.8 1769.5,1003.1 1762.7,1002.3 1755.8,1002.3 1750.7,1000.6" fill="#7D1F46" stroke="#7D1F46" stroke-width="1" stroke-linejoin="round"/>
<polygon points="1657.9,912.0 1663.0,912.8 1667.3,918.8 1664.7,920.5 1660.4,917.1" fill="#7D1F46" stroke="#7D1F46" stroke-width="1" stroke-linejoin="round"/>
<polygon points="1674.9,942.7 1679.2,941.8 1685.1,946.9 1682.6,949.5 1677.5,947.8" fill="#7D1F46" stroke="#7D1F46" stroke-width="1" stroke-linejoin="round"/>
<polygon points="1682.6,953.7 1687.7,956.3 1686.0,958.0 1681.7,956.3" fill="#7D1F46" stroke="#7D1F46" stroke-width="1" stroke-linejoin="round"/>
<polygon points="1736.8,982.7 1736.2,984.5 1734.6,985.6 1732.7,985.6 1731.2,984.5 1730.6,982.7 1731.2,980.9 1732.7,979.8 1734.6,979.8 1736.2,980.9" fill="#7D1F46" stroke="#7D1F46" stroke-width="1" stroke-linejoin="round"/>
<polygon points="1769.5,882.3 1769.3,883.7 1767.9,885.2 1765.8,886.1 1763.8,886.3 1762.7,885.5 1762.8,884.1 1764.2,882.6 1766.3,881.6 1768.3,881.5" fill="#7D1F46" stroke="#7D1F46" stroke-width="1" stroke-linejoin="round"/>
<polygon points="1760.1,890.8 1760.0,892.2 1758.6,893.7 1756.5,894.7 1754.5,894.8 1753.3,894.0 1753.4,892.6 1754.8,891.1 1756.9,890.2 1758.9,890.0" fill="#7D1F46" stroke="#7D1F46" stroke-width="1" stroke-linejoin="round"/>
<polygon points="1783.1,903.1 1782.1,904.0 1779.6,904.6 1776.4,904.6 1773.9,904.0 1772.9,903.1 1773.9,902.2 1776.4,901.7 1779.6,901.7 1782.1,902.2" fill="#7D1F46" stroke="#7D1F46" stroke-width="1" stroke-linejoin="round"/>
<polygon points="1780.7,923.9 1780.2,927.1 1778.8,929.1 1777.1,929.1 1775.8,927.1 1775.3,923.9 1775.8,920.7 1777.1,918.7 1778.8,918.7 1780.2,920.7" fill="#7D1F46" stroke="#7D1F46" stroke-width="1" stroke-linejoin="round"/>
<polygon points="1763.8,942.3 1762.5,942.4 1760.3,941.3 1758.0,939.4 1756.6,937.5 1756.4,936.2 1757.7,936.1 1759.9,937.2 1762.2,939.1 1763.6,941.0" fill="#7D1F46" stroke="#7D1F46" stroke-width="1" stroke-linejoin="round"/>
<polygon points="1800.1,933.6 1799.0,935.4 1795.1,938.1 1789.8,940.5 1785.3,941.8 1783.1,941.5 1784.2,939.7 1788.2,937.0 1793.4,934.6 1798.0,933.3" fill="#7D1F46" stroke="#7D1F46" stroke-width="1" stroke-linejoin="round"/>
<polygon points="1777.5,955.4 1777.1,957.6 1776.1,959.0 1774.8,959.0 1773.8,957.6 1773.4,955.4 1773.8,953.2 1774.8,951.9 1776.1,951.9 1777.1,953.2" fill="#7D1F46" stroke="#7D1F46" stroke-width="1" stroke-linejoin="round"/>
<polygon points="1831.6,965.5 1829.2,969.0 1826.4,970.6 1824.3,969.6 1823.7,966.5 1824.8,962.4 1827.3,958.9 1830.1,957.3 1832.2,958.3 1832.8,961.4" fill="#7D1F46" stroke="#7D1F46" stroke-width="1" stroke-linejoin="round"/>
<polygon points="1290.9,466.6 1290.8,470.2 1287.5,474.2 1282.3,477.2 1277.2,478.0 1274.1,476.4 1274.2,472.8 1277.5,468.8 1282.7,465.8 1287.8,465.0" fill="#7D1F46" stroke="#7D1F46" stroke-width="1" stroke-linejoin="round"/>
<polygon points="1272.7,489.3 1270.6,495.3 1268.4,498.7 1266.8,498.3 1266.6,494.2 1267.8,488.0 1269.9,482.0 1272.1,478.6 1273.6,479.0 1273.9,483.1" fill="#7D1F46" stroke="#7D1F46" stroke-width="1" stroke-linejoin="round"/>
<polygon points="1285.8,491.6 1284.3,497.2 1282.4,500.4 1280.9,500.1 1280.2,496.4 1280.8,490.7 1282.2,485.2 1284.1,481.9 1285.7,482.2 1286.3,485.9" fill="#7D1F46" stroke="#7D1F46" stroke-width="1" stroke-linejoin="round"/>
<polygon points="1282.7,514.2 1281.7,517.0 1280.0,518.6 1278.2,518.3 1277.2,516.2 1277.2,513.2 1278.2,510.3 1279.9,508.7 1281.6,509.0 1282.7,511.1" fill="#7D1F46" stroke="#7D1F46" stroke-width="1" stroke-linejoin="round"/>
<polygon points="1278.4,529.0 1277.7,531.1 1275.9,532.4 1273.7,532.4 1271.9,531.1 1271.3,529.0 1271.9,526.9 1273.7,525.6 1275.9,525.6 1277.7,526.9" fill="#7D1F46" stroke="#7D1F46" stroke-width="1" stroke-linejoin="round"/>
<polygon points="1295.1,564.7 1295.4,566.2 1294.3,568.2 1292.4,569.8 1290.3,570.5 1288.8,570.0 1288.6,568.4 1289.6,566.5 1291.5,564.8 1293.6,564.2" fill="#7D1F46" stroke="#7D1F46" stroke-width="1" stroke-linejoin="round"/>
<polyline points="1159.8,831.6 1167.5,827.7 1173.9,834.1 1184.1,840.5 1194.3,837.9 1200.7,843.1 1202.0,850.7 1191.8,858.4 1186.7,869.9 1181.6,880.1 1179.0,887.8 1171.3,889.1 1173.9,899.3 1177.7,905.7 1170.1,913.3 1171.3,923.6 1164.9,928.7 1158.6,935.1 1158.6,944.0" fill="none" stroke="#93426A" stroke-width="1.2" stroke-linejoin="round"/>
<polyline points="1386.8,650.7 1392.8,654.1 1401.3,651.6 1408.1,649.8 1415.0,652.4 1420.1,658.4 1423.5,665.2" fill="none" stroke="#93426A" stroke-width="1.2" stroke-linejoin="round"/>
<polyline points="1423.5,679.7 1420.9,682.2 1420.9,694.1" fill="none" stroke="#93426A" stroke-width="1.2" stroke-linejoin="round"/>
<polyline points="1497.3,474.8 1502.4,477.4 1505.8,471.4 1505.0,462.9 1509.3,456.1 1512.7,449.3 1513.5,442.4 1509.3,432.2 1512.7,427.1 1516.9,422.0 1514.4,415.2 1509.3,411.8 1508.4,403.3 1509.3,398.1 1505.8,387.9 1505.0,376.0 1507.5,367.5 1512.7,359.0 1517.8,356.4 1522.9,359.0 1526.3,353.9 1524.6,347.0 1522.0,341.9 1524.6,335.1 1528.0,330.0 1527.3,310.8 1540.1,292.9 1541.4,275.0 1552.9,262.2 1556.7,250.7 1570.8,248.2 1573.3,235.4 1582.3,227.7" fill="none" stroke="#93426A" stroke-width="1.2" stroke-linejoin="round"/>
<polyline points="1578.4,232.8 1596.3,241.8 1604.0,250.7 1609.1,267.3 1614.2,280.1 1615.5,292.9 1621.9,306.9" fill="none" stroke="#93426A" stroke-width="1.2" stroke-linejoin="round"/>
<polyline points="1582.3,227.7 1598.9,239.2 1609.1,235.4 1616.8,234.1 1619.3,211.1 1624.4,203.4 1633.4,199.6 1642.3,204.7 1647.4,213.7 1646.2,229.0 1655.1,241.8 1664.1,249.4 1660.2,264.8 1669.2,277.6 1676.8,290.3 1680.7,310.8 1688.3,321.0 1692.2,329.9 1690.9,338.9 1710.1,349.1 1708.8,364.4 1701.1,390.0 1690.9,405.3 1685.8,420.7" fill="none" stroke="#93426A" stroke-width="1.2" stroke-linejoin="round"/>
<polyline points="1690.5,440.6 1695.1,442.9 1695.1,449.1 1692.0,458.3 1695.1,465.9 1699.7,472.1 1701.2,476.7 1698.1,483.6 1702.7,487.4 1705.8,493.5 1707.3,499.7 1711.9,505.8 1716.5,511.9 1713.5,518.1 1710.4,522.7 1705.8,524.2 1699.7,530.3 1702.7,538.0 1699.7,545.7 1695.1,553.3 1692.0,559.5 1693.5,565.6 1688.9,567.1 1682.8,570.2 1676.7,574.8 1672.1,574.8 1667.5,577.9" fill="none" stroke="#93426A" stroke-width="1.2" stroke-linejoin="round"/>
<polyline points="1659.8,485.9 1661.3,482.8 1667.5,479.0 1675.1,480.5 1682.8,485.9 1688.2,488.2 1693.5,484.3 1698.1,483.6" fill="none" stroke="#93426A" stroke-width="1.2" stroke-linejoin="round"/>
<polyline points="1625.3,534.9 1630.7,527.3 1639.9,525.0 1652.1,523.4 1664.4,522.7 1669.0,521.1 1673.6,518.1 1678.2,521.9 1685.9,524.2 1693.5,527.3 1699.7,530.3" fill="none" stroke="#93426A" stroke-width="1.2" stroke-linejoin="round"/>
<polyline points="1629.1,551.8 1633.7,552.6 1639.9,556.4 1644.5,553.3 1652.1,556.4 1655.2,561.0 1653.7,567.1 1646.0,570.2 1636.8,572.5 1623.0,571.0 1615.3,572.5" fill="none" stroke="#93426A" stroke-width="1.2" stroke-linejoin="round"/>
<polyline points="1716.5,514.2 1727.3,514.2 1734.9,518.8 1742.6,512.7 1750.3,514.2 1756.4,521.1 1757.9,533.4 1765.6,541.1 1773.3,545.7 1780.0,551.8" fill="none" stroke="#93426A" stroke-width="1.2" stroke-linejoin="round"/>
<polyline points="1665.3,575.0 1671.7,585.2 1675.6,592.9 1675.6,605.7 1670.4,613.3 1678.1,626.1 1685.8,638.9 1689.6,649.1 1683.2,661.9 1678.1,672.1 1675.6,682.3 1676.8,690.0 1671.7,698.9 1671.7,706.6 1667.9,715.6" fill="none" stroke="#93426A" stroke-width="1.2" stroke-linejoin="round"/>
<polyline points="1614.2,572.4 1632.1,572.4 1655.1,569.9 1665.3,575.0" fill="none" stroke="#93426A" stroke-width="1.2" stroke-linejoin="round"/>
<polyline points="1558.0,654.2 1563.1,661.9 1573.3,667.0 1577.2,672.1 1583.6,675.9 1588.7,672.1 1598.9,674.7 1610.4,679.8 1616.8,684.9 1624.4,688.7 1632.1,687.4 1637.2,690.0 1647.4,695.1 1655.1,702.8 1666.6,705.3 1671.7,698.9" fill="none" stroke="#93426A" stroke-width="1.2" stroke-linejoin="round"/>
<polyline points="1616.8,684.9 1614.2,690.0 1607.8,695.1 1604.0,702.8 1596.3,705.3 1591.2,709.2" fill="none" stroke="#93426A" stroke-width="1.2" stroke-linejoin="round"/>
<polyline points="1545.2,711.7 1550.3,714.3 1558.0,711.7 1563.1,706.6 1573.3,706.6 1583.6,707.9 1591.2,709.2 1596.3,723.2 1598.9,729.6 1609.1,730.9 1619.3,728.3 1627.0,723.2 1634.7,718.1 1642.3,714.3 1650.0,711.7 1660.2,713.0 1667.9,715.6" fill="none" stroke="#93426A" stroke-width="1.2" stroke-linejoin="round"/>
<polyline points="1591.1,709.4 1594.5,718.7 1595.4,729.0 1589.4,734.1 1586.8,744.3 1584.3,754.5" fill="none" stroke="#93426A" stroke-width="1.2" stroke-linejoin="round"/>
<polyline points="1540.0,764.7 1546.8,765.6 1557.0,765.6 1565.6,763.0 1575.8,759.6 1584.3,754.5 1591.1,763.0 1601.3,769.8 1611.6,775.8 1618.4,778.4 1625.2,772.4 1635.4,766.4 1645.6,763.0" fill="none" stroke="#93426A" stroke-width="1.2" stroke-linejoin="round"/>
<polyline points="1540.0,768.1 1541.7,780.1 1548.5,785.2 1557.0,783.5 1563.9,786.9 1572.4,785.2 1575.8,775.0 1577.5,766.4 1583.4,758.8" fill="none" stroke="#93426A" stroke-width="1.2" stroke-linejoin="round"/>
<polyline points="1625.2,772.4 1628.6,780.1 1632.8,785.2 1635.4,792.8" fill="none" stroke="#93426A" stroke-width="1.2" stroke-linejoin="round"/>
<polyline points="1580.0,797.1 1589.4,794.5 1599.6,792.8 1611.6,793.7 1623.5,793.7 1632.8,792.8 1638.8,797.1 1637.1,803.9 1641.4,809.0 1642.2,815.8 1644.8,822.7 1640.5,826.9 1634.5,831.2 1630.3,838.0 1629.4,844.8 1628.6,850.8 1620.1,846.5 1611.6,841.4 1608.1,834.6 1603.0,829.5 1596.2,822.7 1589.4,815.8 1585.1,807.3 1580.0,797.1" fill="none" stroke="#93426A" stroke-width="1.2" stroke-linejoin="round"/>
<polyline points="1657.5,760.5 1661.0,759.6 1664.4,752.8 1669.5,742.6 1671.2,732.4 1676.3,722.1 1683.1,712.8 1693.3,711.9 1707.0,710.2 1718.9,713.6 1729.1,708.5 1735.9,702.6 1741.0,698.3" fill="none" stroke="#93426A" stroke-width="1.2" stroke-linejoin="round"/>
<polyline points="1657.5,769.8 1662.7,778.4 1669.5,785.2 1672.9,792.0 1681.4,795.4 1689.9,792.8 1693.3,798.8 1698.4,804.8" fill="none" stroke="#93426A" stroke-width="1.2" stroke-linejoin="round"/>
<polyline points="1698.4,804.8 1703.5,809.0 1717.2,807.3 1727.4,805.6 1741.0,806.5 1749.5,800.5 1758.1,793.7 1766.6,789.4 1780.0,790.3 1788.8,790.7 1797.7,793.2" fill="none" stroke="#93426A" stroke-width="1.2" stroke-linejoin="round"/>
<polyline points="1698.4,804.8 1691.6,810.7 1695.0,817.5 1701.8,822.7 1700.1,831.2 1698.4,838.0 1700.1,844.8" fill="none" stroke="#93426A" stroke-width="1.2" stroke-linejoin="round"/>
<polyline points="1700.1,844.8 1693.3,847.4 1684.8,849.9 1676.3,854.2 1671.2,860.1 1669.5,868.7 1672.9,877.2 1679.7,884.0 1684.8,882.3 1693.3,878.9 1703.5,873.8 1710.4,867.0 1712.1,858.4 1707.0,851.6 1700.1,844.8" fill="none" stroke="#93426A" stroke-width="1.2" stroke-linejoin="round"/>
<polyline points="1657.5,832.9 1659.3,839.7 1657.5,844.8 1662.7,849.9 1669.5,856.7 1667.8,865.2 1671.2,875.5 1676.3,880.6 1679.7,884.0" fill="none" stroke="#93426A" stroke-width="1.2" stroke-linejoin="round"/>
<polyline points="1770.9,844.3 1781.1,835.4 1795.2,832.8" fill="none" stroke="#93426A" stroke-width="1.2" stroke-linejoin="round"/>
<polyline points="1730.0,705.3 1740.2,695.1 1750.4,709.2 1761.9,718.1 1770.9,724.5 1773.4,738.6 1779.8,753.9" fill="none" stroke="#93426A" stroke-width="1.2" stroke-linejoin="round"/>
<polyline points="1740.2,692.6 1751.7,687.4 1764.5,691.3 1777.3,691.3 1784.9,705.3 1791.3,715.6 1799.0,718.1 1797.7,725.8 1784.9,728.3 1786.2,738.6 1779.8,753.9" fill="none" stroke="#93426A" stroke-width="1.2" stroke-linejoin="round"/>
<polyline points="1730.0,513.7 1742.8,512.4 1754.3,517.5 1758.1,534.1 1770.9,544.3 1783.7,550.7 1791.3,557.1 1787.5,564.8 1777.3,568.6 1781.1,577.6 1786.2,590.3" fill="none" stroke="#93426A" stroke-width="1.2" stroke-linejoin="round"/>
<polyline points="1678.1,628.7 1685.8,621.0 1701.1,615.9 1716.4,614.6 1730.0,615.9 1742.8,615.9 1758.1,613.3 1774.7,612.1 1774.7,598.0 1786.2,590.3" fill="none" stroke="#93426A" stroke-width="1.2" stroke-linejoin="round"/>
<polyline points="1786.2,590.3 1796.4,582.7 1811.8,576.3 1822.0,582.7 1827.1,592.9 1839.9,595.4 1852.7,609.5 1865.4,606.9 1879.5,599.3 1891.0,606.9 1906.3,604.4 1924.2,604.4 1928.1,618.4 1934.4,631.2 1933.2,642.7 1921.7,647.8 1917.8,656.8 1917.8,668.3" fill="none" stroke="#93426A" stroke-width="1.2" stroke-linejoin="round"/>
<polyline points="2023.1,536.7 2012.4,535.4 2011.1,549.4 2018.8,562.2 2022.6,582.7" fill="none" stroke="#93426A" stroke-width="1.2" stroke-linejoin="round"/>
<polyline points="1976.8,736.3 1979.4,730.3 1986.2,726.9 2001.5,728.6 2011.7,726.9 2022.8,719.2" fill="none" stroke="#93426A" stroke-width="1.2" stroke-linejoin="round"/>
<polyline points="2011.7,726.9 2016.0,735.4 2015.1,744.8" fill="none" stroke="#93426A" stroke-width="1.2" stroke-linejoin="round"/>
<polyline points="1860.1,712.4 1863.5,710.7" fill="none" stroke="#93426A" stroke-width="1.2" stroke-linejoin="round"/>
<polyline points="1716.4,512.4 1730.0,514.9" fill="none" stroke="#93426A" stroke-width="1.2" stroke-linejoin="round"/>
<polyline points="2023.1,885.2 2011.1,885.2 2000.9,892.9 1985.6,899.3 1981.7,905.7 1985.6,913.3 1981.7,921.0 1976.6,923.6" fill="none" stroke="#93426A" stroke-width="1.2" stroke-linejoin="round"/>
<polyline points="1988.1,949.1 1998.3,947.8 2003.4,954.2 1998.3,967.0 1993.2,982.3 1986.8,986.2" fill="none" stroke="#93426A" stroke-width="1.2" stroke-linejoin="round"/>
<polyline points="1993.2,984.9 2000.9,992.6 2023.1,995.1" fill="none" stroke="#93426A" stroke-width="1.2" stroke-linejoin="round"/>
<polyline points="1988.1,1005.3 1995.8,1002.8 2000.9,1013.0 1998.3,1025.8 1990.7,1020.7 1988.1,1005.3" fill="none" stroke="#93426A" stroke-width="1.2" stroke-linejoin="round"/>
<polyline points="1998.3,992.6 2006.0,1015.6 2008.6,1034.7" fill="none" stroke="#93426A" stroke-width="1.2" stroke-linejoin="round"/>
<polyline points="1981.7,1029.6 1984.3,1034.7" fill="none" stroke="#93426A" stroke-width="1.2" stroke-linejoin="round"/>
<polyline points="1250.0,1013.0 1252.6,1023.2 1252.1,1034.7" fill="none" stroke="#93426A" stroke-width="1.2" stroke-linejoin="round"/>
<polyline points="1458.3,988.7 1453.2,1005.3 1454.5,1030.9" fill="none" stroke="#93426A" stroke-width="1.2" stroke-linejoin="round"/>
<polyline points="1649.1,213.6 1654.5,206.8 1660.0,202.7" fill="none" stroke="#93426A" stroke-width="1.2" stroke-linejoin="round"/>
<polyline points="1494.2,759.7 1503.5,755.5 1510.4,754.6 1518.9,752.9 1524.0,762.3 1530.8,764.0 1540.0,763.6" fill="none" stroke="#93426A" stroke-width="1.2" stroke-linejoin="round"/>
<polyline points="1540.1,767.7 1543.2,775.3 1541.1,785.6 1542.7,790.7" fill="none" stroke="#93426A" stroke-width="1.2" stroke-linejoin="round"/>
<polyline points="1422.6,770.8 1428.6,764.0 1432.8,755.5 1438.8,748.7 1445.6,743.5 1455.8,741.8 1464.4,742.7 1472.9,743.5 1476.3,748.7 1479.7,753.8 1488.2,757.2 1494.2,759.7 1489.9,764.0 1484.8,767.4 1486.5,772.5 1481.4,771.7 1476.3,769.1 1472.9,774.2 1469.5,777.6 1464.4,772.5 1459.3,769.9 1455.8,772.5 1449.0,777.6 1442.2,780.0 1435.4,774.2 1432.0,767.4 1426.9,769.1 1422.6,770.8" fill="none" stroke="#93426A" stroke-width="1.2" stroke-linejoin="round"/>
<polyline points="1430.3,697.5 1433.7,704.4 1442.2,705.2 1449.0,703.5 1456.7,710.3 1452.4,716.3 1448.2,724.8 1445.6,733.3 1445.6,741.8" fill="none" stroke="#E6D6DC" stroke-width="1.2" stroke-linejoin="round"/>
</g></g>
<rect x="1112" y="166" width="924.5" height="882.5" fill="none" stroke="#7D1F46" stroke-width="2"/>
<path d="M1321.3 550.5 H1267.2 C1235.2 550.5 1209.2 576.5 1209.2 608.5 V1087.0" fill="none" stroke="#EBEFEA" stroke-width="9.5" stroke-linecap="round"/>
<circle cx="1321.3" cy="550.5" r="7.5" fill="#EBEFEA"/>
<path d="M1321.3 550.5 H1267.2 C1235.2 550.5 1209.2 576.5 1209.2 608.5 V1087.0" fill="none" stroke="#8a8a8a" stroke-width="2"/>
<circle cx="1321.3" cy="550.5" r="3.6" fill="#8a8a8a"/>
<path d="M1365.6 786.8 H1401.3 C1426.7 786.8 1447.3 807.4 1447.3 832.8 V1087.0" fill="none" stroke="#EBEFEA" stroke-width="9.5" stroke-linecap="round"/>
<circle cx="1365.6" cy="786.8" r="7.5" fill="#EBEFEA"/>
<path d="M1365.6 786.8 H1401.3 C1426.7 786.8 1447.3 807.4 1447.3 832.8 V1087.0" fill="none" stroke="#8a8a8a" stroke-width="2"/>
<circle cx="1365.6" cy="786.8" r="3.6" fill="#8a8a8a"/>
<path d="M1496.5 648.0 H1593.8 C1625.8 648.0 1651.8 674.0 1651.8 706.0 V1087.0" fill="none" stroke="#EBEFEA" stroke-width="9.5" stroke-linecap="round"/>
<circle cx="1496.5" cy="648.0" r="7.5" fill="#EBEFEA"/>
<path d="M1496.5 648.0 H1593.8 C1625.8 648.0 1651.8 674.0 1651.8 706.0 V1087.0" fill="none" stroke="#8a8a8a" stroke-width="2"/>
<circle cx="1496.5" cy="648.0" r="3.6" fill="#8a8a8a"/>
<path d="M1696.2 908.6 H1810.0 C1842.0 908.6 1868.0 934.6 1868.0 966.6 V1087.0" fill="none" stroke="#EBEFEA" stroke-width="9.5" stroke-linecap="round"/>
<circle cx="1696.2" cy="908.6" r="7.5" fill="#EBEFEA"/>
<path d="M1696.2 908.6 H1810.0 C1842.0 908.6 1868.0 934.6 1868.0 966.6 V1087.0" fill="none" stroke="#8a8a8a" stroke-width="2"/>
<circle cx="1696.2" cy="908.6" r="3.6" fill="#8a8a8a"/>
</svg>
</div></body></html>
